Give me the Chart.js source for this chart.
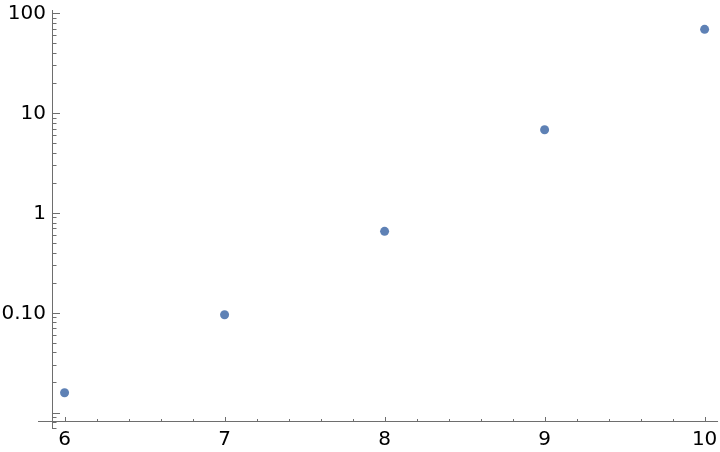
<!DOCTYPE html>
<html>
<head>
<meta charset="utf-8">
<script src="https://cdn.jsdelivr.net/npm/chart.js@4/dist/chart.umd.min.js"></script>
<style>
html,body{margin:0;padding:0;background:#fff;}
#wrap{width:720px;height:452px;position:relative;}
</style>
</head>
<body>
<div id="wrap"><canvas id="c" width="720" height="452"></canvas></div>
<script>
// Data
const xValues = [6, 7, 8, 9, 10];
const yValues = [0.0158, 0.0955, 0.654, 6.82, 69.1];

// Tick labels
const xTickValues = [6, 7, 8, 9, 10];
const xTickLabels = ['6', '7', '8', '9', '10'];
const xMinorStep = 0.2;
const yTickValues = [0.1, 1, 10, 100];
const yTickLabels = ['0.10', '1', '10', '100'];

// Plot range / axes origin
const xRange = [5.834, 10.068];
const xAxisEnd = 10.084;
const yRange = [0.00684, 107.9];
const axesOrigin = [5.92, 0.00817];

const points = xValues.map((x, i) => ({x: x, y: yValues[i]}));

const axesPlugin = {
  id: 'mmaAxes',
  beforeDatasetsDraw(chart) {
    const ctx = chart.ctx;
    const xs = chart.scales.x, ys = chart.scales.y;
    const area = chart.chartArea;
    const ax = Math.round(xs.getPixelForValue(axesOrigin[0])) + 0.5;
    const ay = Math.round(ys.getPixelForValue(axesOrigin[1])) + 0.5;
    ctx.save();
    ctx.strokeStyle = '#6e6e6e';
    ctx.lineWidth = 1;
    ctx.beginPath();
    ctx.moveTo(ax, area.top);
    ctx.lineTo(ax, area.bottom);
    ctx.moveTo(area.left, ay);
    ctx.lineTo(xs.getPixelForValue(xAxisEnd), ay);
    for (let v = 6; v <= xAxisEnd + 1e-9; v = Math.round((v + xMinorStep) * 10) / 10) {
      const px = Math.round(xs.getPixelForValue(v)) + 0.5;
      const major = Math.abs(v - Math.round(v)) < 1e-9;
      const len = major ? 4.5 : 2.5;
      ctx.moveTo(px, ay);
      ctx.lineTo(px, ay - len);
    }
    const lo = Math.floor(Math.log10(yRange[0])), hi = Math.ceil(Math.log10(yRange[1]));
    for (let d = lo; d <= hi; d++) {
      const base = Math.pow(10, d);
      for (let m = 1; m <= 9; m++) {
        const v = base * m;
        if (v < yRange[0] || v > yRange[1]) continue;
        const py = Math.round(ys.getPixelForValue(v)) + 0.5;
        const len = m === 1 ? 7.5 : 4;
        ctx.moveTo(ax, py);
        ctx.lineTo(ax + len, py);
      }
    }
    ctx.stroke();
    ctx.fillStyle = '#000';
    ctx.font = '20px "DejaVu Sans"';
    ctx.textAlign = 'center';
    ctx.textBaseline = 'middle';
    xTickValues.forEach((v, i) => {
      ctx.fillText(xTickLabels[i], xs.getPixelForValue(v), ay + 18);
    });
    ctx.textAlign = 'right';
    yTickValues.forEach((v, i) => {
      ctx.fillText(yTickLabels[i], ax - 6.5, ys.getPixelForValue(v) + 1);
    });
    ctx.restore();
  }
};

new Chart(document.getElementById('c'), {
  type: 'scatter',
  data: {
    datasets: [{
      data: points,
      backgroundColor: '#5e81b5',
      borderColor: '#5e81b5',
      borderWidth: 0,
      pointRadius: 4.5,
      pointHoverRadius: 4.5
    }]
  },
  options: {
    responsive: false,
    animation: false,
    events: [],
    layout: {padding: {left: 38, right: 2, top: 10, bottom: 23}},
    plugins: {legend: {display: false}, tooltip: {enabled: false}},
    scales: {
      x: {type: 'linear', min: xRange[0], max: xRange[1], display: false},
      y: {type: 'logarithmic', min: yRange[0], max: yRange[1], display: false}
    }
  },
  plugins: [axesPlugin]
});
</script>
</body>
</html>
